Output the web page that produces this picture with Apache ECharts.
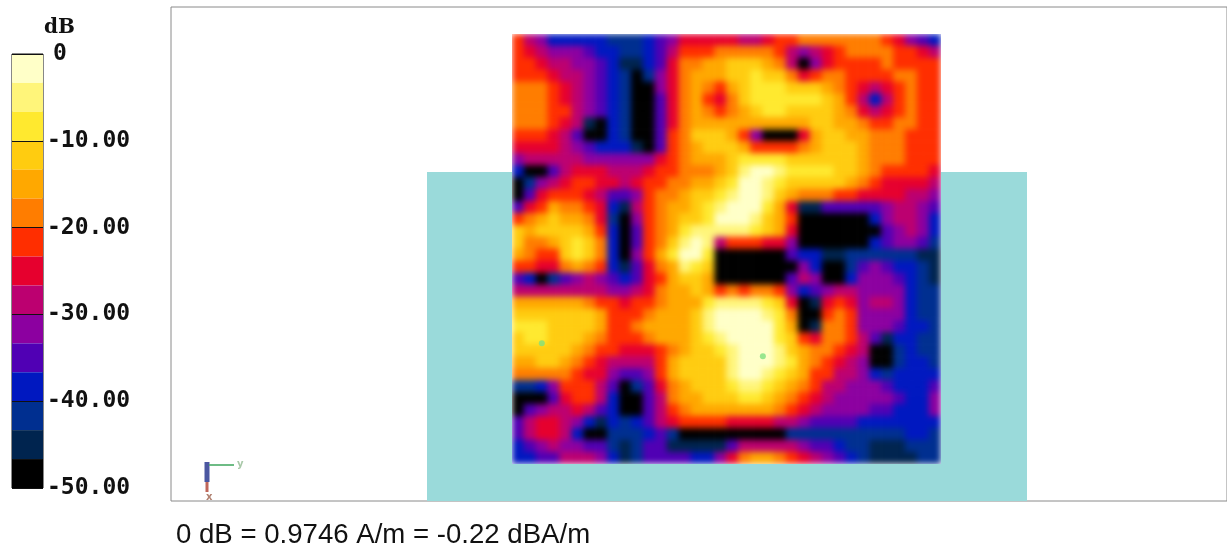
<!DOCTYPE html>
<html><head><meta charset="utf-8">
<style>html,body{margin:0;padding:0;background:#fff}
#c{position:absolute;left:0;top:0;width:1227px;height:552px;z-index:2}
#h{position:absolute;left:512px;top:34px;width:429px;height:430px;z-index:1;filter:url(#soft)}</style>
<script src="https://cdn.jsdelivr.net/npm/echarts@6/dist/echarts.min.js"></script>
</head><body>
<svg width="0" height="0" style="position:absolute"><filter id="soft" x="0" y="0" width="100%" height="100%" color-interpolation-filters="sRGB"><feGaussianBlur stdDeviation="3.2" edgeMode="duplicate"/></filter></svg>
<div id="h"></div><div id="c"></div>
<script>
const bandColors=['#ffffc8','#fff57a','#ffe92f','#ffcc10','#ffa800','#ff7d00','#ff2e00','#e6002e','#bc0070','#8c00a0','#5000b4','#0018c0','#002f90','#00244f','#000000'];
const bandSize=50/15;
const tickLabels=['{z|0}','-10.00','-20.00','-30.00','-40.00','-50.00'];
const footnote='0 dB = 0.9746 A/m = -0.22 dBA/m';
const probePoints=[[21.05,26.97],[2.5,25.9]];
// band index per cell: 0 = palest (0 dB) ... e = black (-50 dB)
const bandRows=[
'689bbb bbcccb a97777 788766 555555 5679ab',
'678999 abbccb a86665 555568 987655 556678',
'667889 9abddb a75544 333458 e97666 656666',
'666788 9abcec 975444 332335 765566 665566',
'555678 9abcee 975456 432223 334567 876566',
'555678 9abcee a75467 532222 223468 b86566',
'555668 9abcee a75456 543223 333457 876566',
'555678 deb cee a75444 444444 433445 665566',
'66678a eebcee a65333 469eee 743344 555666',
'777789 abbbde a65433 346666 543334 555666',
'988888 999999 765444 322223 333334 555666',
'beea87 778887 665554 310012 222334 566667',
'ec9876 677876 655443 200123 333345 677778',
'ea7666 78aa96 554332 100134 555667 777889',
'a76455 67bd86 544321 000247 ddaaaa a9889a',
'654344 57ce96 543320 001346 eeeeee b9889b',
'343333 46bea6 542111 112347 eeeeee ea989b',
'355432 35bea6 531018 666779 eeeeee ba99ac',
'456632 35be96 42002e eeeeea bbddcc ccccdd',
'667754 56bda7 54123e eeeeee 9beeca 9abbcd',
'abeca9 89aba7 64334e eeeeea 89eeb9 99abcd',
'888888 889987 544346 565569 ba9889 999bcc',
'444444 566766 544421 111237 ed7679 889bcc',
'333333 346665 444310 000125 ee6569 999bcc',
'222333 346654 444310 000024 ed5569 99abbc',
'322333 456665 444321 000023 675568 adbbcc',
'333334 566777 654332 100013 455678 eecbcc',
'443345 678888 643333 100012 456789 eecbbc',
'555556 779aa9 643333 100123 466889 bcbbbb',
'ccb966 68aeca 754333 211234 568899 9abbba',
'eeea76 68beea 854433 322345 678999 99abb9',
'ea9887 8abeea 865444 444456 789999 aabbb9',
'a87789 bdbcba 876666 777788 9aaaab bbbbbb',
'a8778b eecccb aceeee eeeeec cccccc cccbbc',
'ba9899 aacdca addddd a88888 9aabcc dddccc',
'bbaa88 89bdca aaabb9 754456 789abc ddddcc'
];
const rows=bandRows.map(r=>r.replace(/\s/g,''));
const heat=[];
rows.forEach((r,y)=>{[...r].forEach((ch,x)=>{const b=parseInt(ch,16);heat.push([x,y,-(b+0.5)*bandSize]);});});
const idx=Array.from({length:36},(_,i)=>i);
const heatChart=echarts.init(document.getElementById('h'));
heatChart.setOption({animation:false,
 grid:{left:0,top:0,right:0,bottom:0},
 xAxis:{type:'category',data:idx,show:false},
 yAxis:{type:'category',data:idx,inverse:true,show:false},
 visualMap:{show:false,type:'piecewise',seriesIndex:0,dimension:2,
  pieces:bandColors.map((c,i)=>({min:-(i+1)*bandSize,max:-i*bandSize,color:c}))},
 series:[{type:'heatmap',data:heat,silent:true,progressive:0}]
});
const chart=echarts.init(document.getElementById('c'));
const barSeries=bandColors.map((col,i)=>({type:'bar',stack:'b',xAxisIndex:5,yAxisIndex:5,barWidth:'100%',data:[-bandSize],itemStyle:{color:col},silent:true,z:1}));
const teal='#9adada';
chart.setOption({
animation:false,backgroundColor:'transparent',
title:[{text:footnote,left:171,top:516,textStyle:{fontFamily:'Liberation Sans',fontSize:27.6,fontWeight:'normal',color:'#111'}},
 {text:'dB',left:39,top:13,textStyle:{fontFamily:'DejaVu Serif',fontSize:20,fontWeight:'bold',color:'#111'}}],
grid:[
 {left:171,top:7,width:1060,height:494,show:true,borderColor:'#8a8a8a',borderWidth:1},
 {left:427,top:172,width:85,height:329,show:true,borderWidth:0,backgroundColor:teal},
 {left:941,top:172,width:86,height:329,show:true,borderWidth:0,backgroundColor:teal},
 {left:512,top:464,width:429,height:37,show:true,borderWidth:0,backgroundColor:teal},
 {left:512,top:34,width:429,height:430},
 {left:12,top:54,width:31,height:434,show:true,borderColor:'#111',borderWidth:1}
],
xAxis:[0,1,2,3].map(g=>({gridIndex:g,type:'value',show:false})).concat([
 {gridIndex:4,type:'value',min:0,max:36,show:false},
 {gridIndex:5,type:'category',data:['bar'],show:false}]),
yAxis:[0,1,2,3].map(g=>({gridIndex:g,type:'value',show:false})).concat([
 {gridIndex:4,type:'value',min:0,max:36,inverse:true,show:false},
 {gridIndex:5,type:'value',min:-50,max:0,interval:10,position:'right',z:5,
  axisLine:{show:false},axisTick:{show:false},
  splitLine:{show:true,lineStyle:{color:'#111',width:1}},
  axisLabel:{margin:4,fontFamily:'DejaVu Sans Mono',fontWeight:'bold',fontSize:23,color:'#111',
   rich:{z:{fontFamily:'DejaVu Sans Mono',fontWeight:'bold',fontSize:23,color:'#111',padding:[0,0,0,6]}},
   formatter:v=>tickLabels[Math.round(-v/10)]}}
]),
series:[
 {type:'scatter',xAxisIndex:4,yAxisIndex:4,data:probePoints,symbol:'circle',symbolSize:6,itemStyle:{color:'#7fe07f'},silent:true,z:5},
 ...barSeries
],
graphic:[
 {type:'line',shape:{x1:207,y1:462,x2:207,y2:482},style:{stroke:'#2c3a90',lineWidth:5,opacity:.85}},
 {type:'line',shape:{x1:207,y1:482,x2:207,y2:492},style:{stroke:'#b04030',lineWidth:3,opacity:.8}},
 {type:'line',shape:{x1:209,y1:465,x2:234,y2:465},style:{stroke:'#55b070',lineWidth:2,opacity:.85}},
 {type:'text',x:237,y:459,style:{text:'y',fill:'#a8c8a8',font:'bold 10px DejaVu Sans'}},
 {type:'text',x:206,y:492,style:{text:'x',fill:'#b08070',font:'bold 10px DejaVu Sans'}}
]
});
</script></body></html>
